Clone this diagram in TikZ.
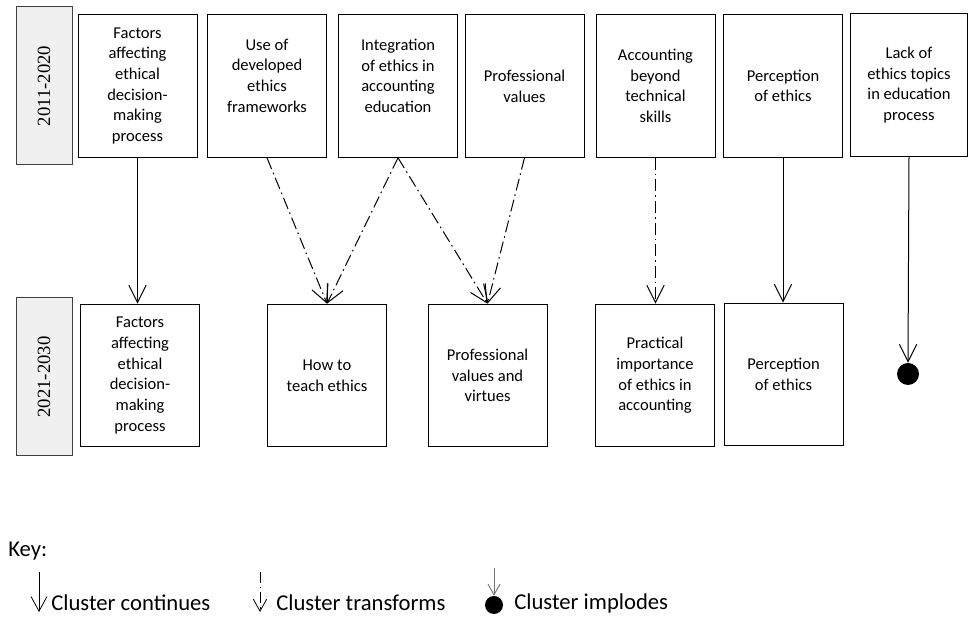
\documentclass[tikz,border=0pt]{standalone}
\usepackage{fontspec}
\setmainfont{Carlito}
\newfontfamily\yearfont{Liberation Serif}
\usetikzlibrary{arrows.meta}

\begin{document}
\begin{tikzpicture}[x=0.75pt,y=0.75pt,
    topic/.style={draw, line width=0.75pt, minimum width=89.25pt, minimum height=107pt, align=center, inner sep=0pt, font=\fontsize{12.4}{15.5}\selectfont},
    period/.style={draw=black!75, fill=black!6, line width=0.75pt, rotate=90, minimum width=118.5pt, minimum height=42pt, inner sep=0pt, font=\fontsize{14}{16}\selectfont\yearfont},
    keytext/.style={anchor=west, inner sep=0pt, font=\fontsize{17}{20}\selectfont},
    continues/.style={-{Straight Barb[length=13pt,width=13pt]}, line width=0.75pt},
    transforms/.style={continues, dash pattern=on 9pt off 3pt on 1.2pt off 3pt}]
  \useasboundingbox (0,0) rectangle (968,617);
  \node[period] (p1) at (44,531) {\yearfont 2011-2020};
  \node[period] (p2) at (44,240) {\yearfont 2021-2030};
  \node[topic] (t1) at (137.5,531) {Factors\\affecting\\ethical\\decision-\\making\\process};
  \node[topic] (t2) at (267,531) {Use of\\developed\\ethics\\frameworks\\\mbox{}};
  \node[topic] (t3) at (398,531) {Integration\\of ethics in\\accounting\\education\\\mbox{}};
  \node[topic] (t4) at (524.5,531) {Professional\\values};
  \node[topic] (t5) at (655.5,531) {Accounting\\beyond\\technical\\skills};
  \node[topic] (t6) at (783,531) {Perception\\of ethics};
  \node[topic, minimum width=87.75pt] (t7) at (909,532) {Lack of\\ethics topics\\in education\\process};
  \node[topic] (b1) at (140,241.5) {Factors\\affecting\\ethical\\decision-\\making\\process};
  \node[topic] (b2) at (327,241.5) {How to\\teach ethics};
  \node[topic] (b3) at (487.5,241.5) {Professional\\values and\\virtues};
  \node[topic] (b4) at (655,241.5) {Practical\\importance\\of ethics in\\accounting};
  \node[topic] (b5) at (783.5,242.5) {Perception\\of ethics};
  \node[circle, fill, inner sep=0pt, minimum size=16.5pt] (end) at (908,243) {};
  \draw[continues] (t1.south) -- (t1.south |- b1.north);
  \draw[transforms] (t2.south) -- (b2.north);
  \draw[transforms] (t3.south) -- (b2.north);
  \draw[transforms] (t3.south) -- (b3.north);
  \draw[transforms] (t4.south) -- (b3.north);
  \draw[transforms] (t5.south) -- (t5.south |- b4.north);
  \draw[continues] (t6.south) -- (t6.south |- b5.north);
  \draw[continues] (t7.south) -- (end.north);
  \node[keytext] (key) at (8,66) {Key:};
  \coordinate (k1a) at (39,45);
  \coordinate (k1b) at (39,5);
  \draw[continues, -{Straight Barb[length=11pt,width=12pt]}, line width=0.6pt] (k1a) -- (k1b);
  \node[keytext] (k1) at (51,14) {Cluster continues};
  \coordinate (k2a) at (260,45);
  \coordinate (k2b) at (260,5);
  \draw[transforms, -{Straight Barb[length=9pt,width=10pt]}, dash pattern=on 8pt off 3pt on 1.2pt off 3pt, line width=0.6pt] (k2a) -- (k2b);
  \node[keytext] (k2) at (276,14) {Cluster transforms};
  \node[circle, fill, inner sep=0pt, minimum size=13.5pt] (k3dot) at (494,12) {};
  \coordinate (k3a) at (494,49);
  \draw[-{Straight Barb[length=8pt,width=9pt]}, draw=black!55, line width=0.7pt] (k3a) -- (k3dot.north);
  \node[keytext] (k3) at (514,14) {Cluster implodes};
\end{tikzpicture}
\end{document}
